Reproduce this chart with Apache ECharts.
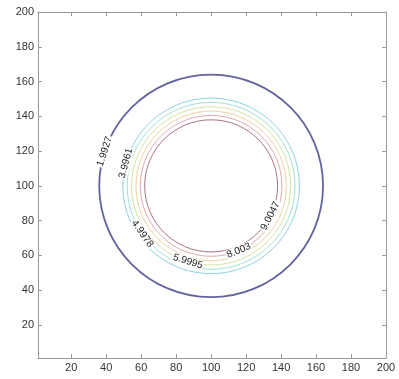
<!DOCTYPE html>
<html>
<head>
    <meta charset="utf-8">
    <title>ECharts</title>
    <script type="text/javascript" src="https://cdn.jsdelivr.net/npm/echarts@6/dist/echarts.min.js"></script>
</head>
<body style="margin:0">
    <div id="main" style="width: 399px;height:379px;"></div>
    <script type="text/javascript">
        // contour levels
        var levels = [1.9927, 3.9961, 4.9978, 5.9995, 7.0013, 8.003, 9.0047];
        var radii = [64, 50.5, 48, 45.5, 43, 40.5, 38];
        var center = [100, 100];
        // where the inline label sits on each contour (degrees, null = no label)
        var labelAngles = [162, 165, 215, 253, null, 293, 333];
        var levelColors = ['#62629f', '#8ed2e2', '#a4e0d2', '#d6e4a2', '#efd3a2', '#dfa9ae', '#a97480'];
        var tickValues = [20, 40, 60, 80, 100, 120, 140, 160, 180, 200];

        var myChart = echarts.init(document.getElementById('main'));

        var rings = levels.map(function (v, i) {
            return [center[0], center[1], radii[i], i];
        });

        function tangent(deg) {
            var t = deg + 90;
            while (t > 180) t -= 360;
            if (t > 90) t -= 180;
            if (t < -90) t += 180;
            return t;
        }

        function axisCommon(show) {
            return {
                type: 'value',
                min: 1,
                max: 200,
                axisLine: { show: true, lineStyle: { color: '#999', width: 1 } },
                axisTick: { show: true, inside: true, length: 4, customValues: tickValues, lineStyle: { color: '#999' } },
                axisLabel: { show: show, margin: 4, customValues: tickValues, color: '#333', fontSize: 11, fontFamily: 'Arial' },
                splitLine: { show: false }
            };
        }

        var option = {
            animation: false,
            backgroundColor: '#fff',
            grid: { left: 38, right: 13, top: 12, bottom: 21 },
            xAxis: [
                Object.assign(axisCommon(true), { position: 'bottom' }),
                Object.assign(axisCommon(false), { position: 'top' })
            ],
            yAxis: [
                Object.assign(axisCommon(true), { position: 'left' }),
                Object.assign(axisCommon(false), { position: 'right' })
            ],
            series: [{
                type: 'custom',
                data: rings,
                renderItem: function (params, api) {
                    var c = api.coord([api.value(0), api.value(1)]);
                    var r = api.value(2);
                    var i = api.value(3);
                    return {
                        type: 'ellipse',
                        shape: { cx: c[0], cy: c[1], rx: api.size([r, 0])[0], ry: api.size([0, r])[1] },
                        style: { fill: null, stroke: levelColors[i], lineWidth: i === 0 ? 1.8 : 1 }
                    };
                }
            }, {
                type: 'custom',
                z: 5,
                data: rings,
                renderItem: function (params, api) {
                    var i = api.value(3);
                    var a = labelAngles[i];
                    if (a == null) return null;
                    var c = api.coord([api.value(0), api.value(1)]);
                    var r = api.value(2);
                    var rad = a * Math.PI / 180;
                    var px = c[0] + api.size([r, 0])[0] * Math.cos(rad);
                    var py = c[1] - api.size([0, r])[1] * Math.sin(rad);
                    return {
                        type: 'text',
                        x: px,
                        y: py,
                        rotation: tangent(a) * Math.PI / 180,
                        style: {
                            text: String(levels[i]),
                            fill: '#222',
                            font: '10px Arial',
                            align: 'center',
                            verticalAlign: 'middle',
                            backgroundColor: '#fff',
                            padding: [0, 1]
                        }
                    };
                }
            }]
        };

        myChart.setOption(option);
    </script>
</body>
</html>
